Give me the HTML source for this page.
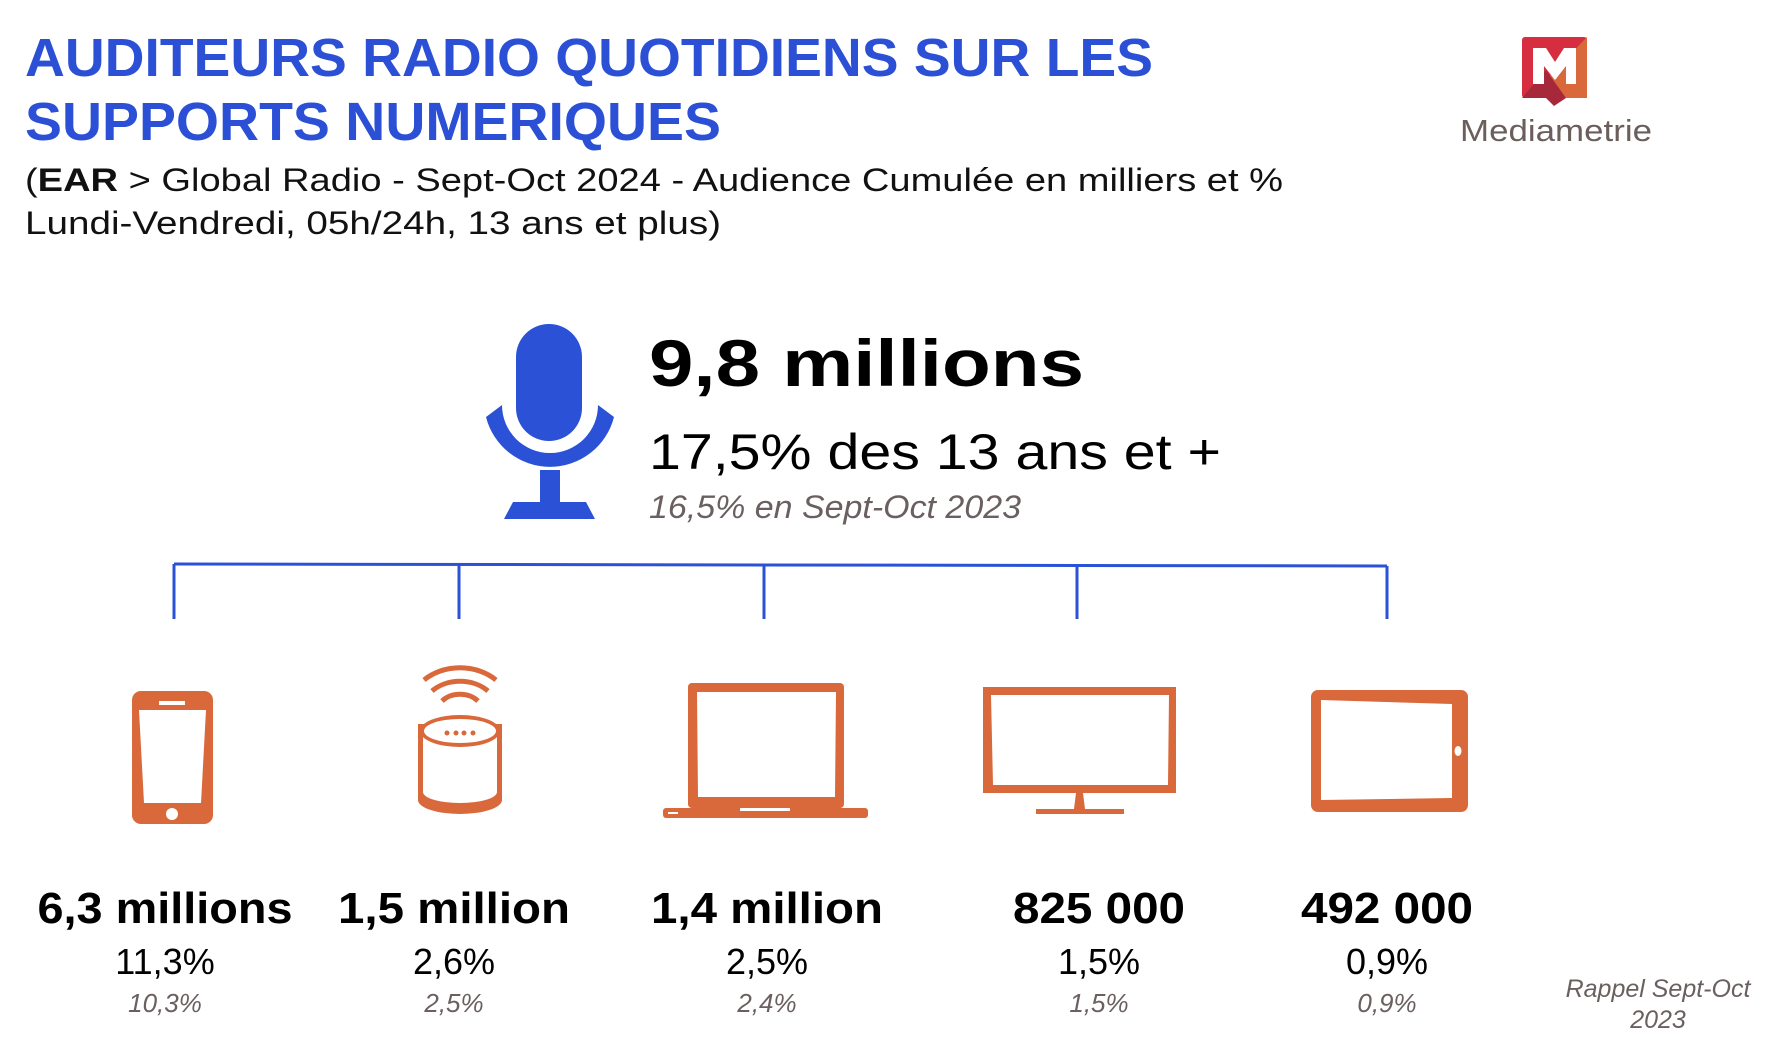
<!DOCTYPE html>
<html><head><meta charset="utf-8"><style>
html,body{margin:0;padding:0;background:#fff;}
svg{display:block;font-family:"Liberation Sans",sans-serif;}
</style></head><body>
<svg id="s" width="1780" height="1060" viewBox="0 0 1780 1060">
<g fill="#2b50d6" font-weight="bold" font-size="54">
<text x="25" y="76" textLength="1128" lengthAdjust="spacingAndGlyphs">AUDITEURS RADIO QUOTIDIENS SUR LES</text>
<text x="25" y="140" textLength="696" lengthAdjust="spacingAndGlyphs">SUPPORTS NUMERIQUES</text>
</g>
<g fill="#111" font-size="32">
<text x="25" y="191" textLength="1258" lengthAdjust="spacingAndGlyphs">(<tspan font-weight="bold">EAR</tspan> &gt; Global Radio - Sept-Oct 2024 - Audience Cumulée en milliers et %</text>
<text x="25" y="234" textLength="696" lengthAdjust="spacingAndGlyphs">Lundi-Vendredi, 05h/24h, 13 ans et plus)</text>
</g>
<g>
<rect x="1522" y="37" width="65" height="61" rx="3" fill="#d62e40"/>
<polygon points="1587,37 1587,98 1554,98 1546,80" fill="#d9683a"/>
<polygon points="1522,98 1546,70 1566,98 1554,106 1546,98" fill="#a6283a"/>
<polygon points="1533,48 1546,48 1555,62 1564,48 1576,48 1576,84 1566,84 1566,66 1555,80 1544,66 1544,84 1533,84" fill="#fff"/>
<text x="1460" y="141" font-size="31" fill="#6b5f5c" textLength="192" lengthAdjust="spacingAndGlyphs">Mediametrie</text>
</g>
<g fill="#2b52d6">
<rect x="516" y="324" width="66" height="117" rx="33"/>
<path d="M486,417 A66,66 0 0 0 614,417 L598,405 A48,48 0 0 1 502,405 Z"/>
<rect x="540" y="470" width="20" height="34"/>
<polygon points="513,502 586,502 595,519 504,519"/>
</g>
<text x="649" y="386" font-size="66" font-weight="bold" fill="#000" textLength="435" lengthAdjust="spacingAndGlyphs">9,8 millions</text>
<text x="649" y="469" font-size="50" fill="#000" textLength="572" lengthAdjust="spacingAndGlyphs">17,5% des 13 ans et +</text>
<text x="649" y="518" font-size="32" font-style="italic" fill="#6b6060" textLength="372" lengthAdjust="spacingAndGlyphs">16,5% en Sept-Oct 2023</text>
<g id="bracket" stroke="#2b52d6" stroke-width="3" fill="none"></g>
<g id="icons" fill="#d9683a">
<g>
<rect x="132" y="691" width="81" height="133" rx="9"/>
<polygon points="139,710 206,710 201,803 144,803" fill="#fff"/>
<rect x="159" y="701" width="26" height="4" fill="#fff"/>
<circle cx="172" cy="814" r="6" fill="#fff"/>
</g>
<g>
<path d="M418,724 L418,800 A42,14 0 0 0 502,800 L502,724 Z" fill="#d9683a"/>
<path d="M423,728 L423,792 A37,11 0 0 0 497,792 L497,728 Z" fill="#fff"/>
<ellipse cx="460" cy="731" rx="40" ry="16" fill="#d9683a"/>
<ellipse cx="460" cy="731" rx="36" ry="12" fill="#fff"/>
<circle cx="447" cy="733" r="2.5"/><circle cx="456" cy="733" r="2.5"/><circle cx="464" cy="733" r="2.5"/><circle cx="473" cy="733" r="2.5"/>
<path d="M424,680 A50,40 0 0 1 496,680" stroke="#d9683a" stroke-width="5" fill="none"/>
<path d="M432,691 A38,30 0 0 1 488,691" stroke="#d9683a" stroke-width="5" fill="none"/>
<path d="M442,701 A24,20 0 0 1 478,701" stroke="#d9683a" stroke-width="5" fill="none"/>
</g>
<g>
<rect x="688" y="683" width="156" height="125" rx="4"/>
<polygon points="697,692 836,692 835,797 698,797" fill="#fff"/>
<rect x="663" y="808" width="205" height="10" rx="3"/>
<rect x="740" y="808" width="50" height="3" fill="#fff"/>
<rect x="668" y="812" width="10" height="2" fill="#fff"/>
</g>
<g>
<rect x="983" y="687" width="193" height="106"/>
<polygon points="991,695 1169,695 1168,785 993,785" fill="#fff"/>
<polygon points="1076,793 1083,793 1085,809 1074,809"/>
<rect x="1036" y="809" width="88" height="5"/>
</g>
<g>
<rect x="1311" y="690" width="157" height="122" rx="7"/>
<polygon points="1321,700 1452,704 1452,798 1321,800" fill="#fff"/>
<ellipse cx="1458" cy="751" rx="3.5" ry="5" fill="#fff"/>
</g>
</g>
<g id="values"></g>
<g font-size="25" font-style="italic" fill="#6b6060" text-anchor="middle">
<text x="1658" y="997">Rappel Sept-Oct</text>
<text x="1658" y="1028">2023</text>
</g>
</svg>
<script>
const devices = ["smartphone","smart-speaker","laptop","monitor","tablet"];
const audienceLabels = ["6,3 millions","1,5 million","1,4 million","825 000","492 000"];
const shares2024 = ["11,3%","2,6%","2,5%","1,5%","0,9%"];
const shares2023 = ["10,3%","2,5%","2,4%","1,5%","0,9%"];
const colX = [165,454,767,1099,1387];
const bracketX = [174,459,764,1077,1387];
const labelWidths = [255,232,232,172,172];
const NS = "http://www.w3.org/2000/svg";
const br = document.getElementById("bracket");
const h = document.createElementNS(NS,"line");
h.setAttribute("x1",bracketX[0]);h.setAttribute("x2",bracketX[bracketX.length-1]);
h.setAttribute("y1",564);h.setAttribute("y2",566);


br.appendChild(h);
bracketX.forEach((x,i)=>{
  const v=document.createElementNS(NS,"line");
  v.setAttribute("x1",x);v.setAttribute("x2",x);
  v.setAttribute("y1",564+i*0.5);v.setAttribute("y2",619);
  
  
  br.appendChild(v);
});
const vg = document.getElementById("values");
devices.forEach((d,i)=>{
  const t1=document.createElementNS(NS,"text");
  t1.setAttribute("x",colX[i]);t1.setAttribute("y",923);
  t1.setAttribute("text-anchor","middle");t1.setAttribute("font-size","44");
  t1.setAttribute("font-weight","bold");t1.setAttribute("fill","#000");
  t1.setAttribute("textLength",labelWidths[i]);t1.setAttribute("lengthAdjust","spacingAndGlyphs");
  t1.textContent=audienceLabels[i];
  
  
  vg.appendChild(t1);
  const t2=document.createElementNS(NS,"text");
  t2.setAttribute("x",colX[i]);t2.setAttribute("y",974);
  t2.setAttribute("text-anchor","middle");t2.setAttribute("font-size","36");
  t2.setAttribute("fill","#000");
  t2.textContent=shares2024[i];
  
  
  vg.appendChild(t2);
  const t3=document.createElementNS(NS,"text");
  t3.setAttribute("x",colX[i]);t3.setAttribute("y",1012);
  t3.setAttribute("text-anchor","middle");t3.setAttribute("font-size","26");
  t3.setAttribute("font-style","italic");t3.setAttribute("fill","#6b6060");
  t3.textContent=shares2023[i];
  
  
  vg.appendChild(t3);
});
</script>
</body></html>
